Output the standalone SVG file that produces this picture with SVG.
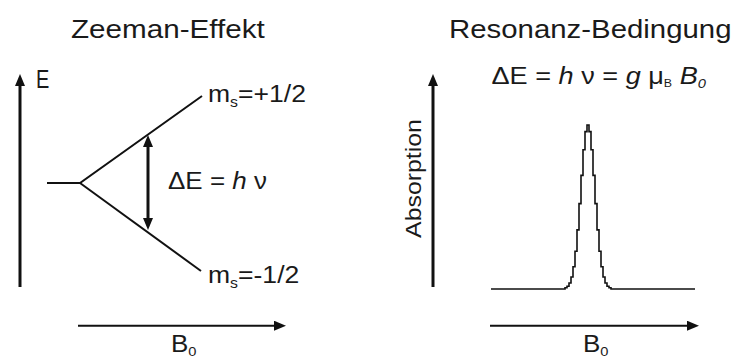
<svg xmlns="http://www.w3.org/2000/svg" width="736" height="361" viewBox="0 0 736 361">
  <defs>
    <marker id="ah" viewBox="0 0 12 10" refX="0" refY="5" markerWidth="12" markerHeight="10" orient="auto-start-reverse" markerUnits="userSpaceOnUse">
      <path d="M0,0 L12,5 L0,10 z" fill="#111"/>
    </marker>
    <style>
      .t { font-family: "Liberation Sans", Arial, Helvetica, sans-serif; fill: #1a1a1a; }
      .title { font-size: 26px; }
      .lbl { font-size: 23px; }
      .ax { stroke: #111; stroke-width: 3; fill: none; }
      .ax2 { stroke: #111; stroke-width: 2; fill: none; }
      .ln { stroke: #111; stroke-width: 2; fill: none; }
      .curve { stroke: #111; stroke-width: 1.6; fill: none; }
      .i { font-style: italic; }
    </style>
  </defs>
  <rect width="736" height="361" fill="#ffffff"/>

  <g id="title-zeeman">
    <text class="t title" transform="translate(71,38) scale(1.14,1)">Zeeman-Effekt</text>
  </g>
  <g id="title-resonanz">
    <text class="t title" transform="translate(449,37.5) scale(1.13,1)">Resonanz-Bedingung</text>
  </g>

  <g id="connectors">
    <line id="axis-E" class="ax" x1="20" y1="287" x2="20" y2="86" marker-end="url(#ah)"/>
    <line id="axis-B0-left" class="ax2" x1="78" y1="325.7" x2="274" y2="325.7" marker-end="url(#ah)"/>
    <line id="axis-absorption" class="ax" x1="433" y1="287" x2="433" y2="86" marker-end="url(#ah)"/>
    <line id="axis-B0-right" class="ax2" x1="490" y1="325.7" x2="687" y2="325.7" marker-end="url(#ah)"/>
    <line id="delta-arrow" class="ax" x1="148" y1="147" x2="148" y2="218" marker-start="url(#ah)" marker-end="url(#ah)"/>
  </g>

  <g id="level-split">
    <polyline class="ln" points="47,183 80,183 202,96"/>
    <line class="ln" x1="80" y1="183" x2="201" y2="271"/>
  </g>

  <g id="label-E">
    <text class="t" font-size="25" fill="#333" transform="translate(36,88) scale(0.8,1)">E</text>
  </g>
  <g id="label-ms-plus">
    <text class="t" font-size="23.5" transform="translate(208,101.5) scale(1.13,1)">m<tspan font-size="14" dy="5">s</tspan><tspan dy="-5">=+1/2</tspan></text>
  </g>
  <g id="label-ms-minus">
    <text class="t" font-size="23.5" transform="translate(208,283) scale(1.13,1)">m<tspan font-size="14" dy="5">s</tspan><tspan dy="-5">=-1/2</tspan></text>
  </g>
  <g id="label-deltaE">
    <text class="t lbl" transform="translate(168,188.5) scale(1.13,1)">ΔE = <tspan class="i">h</tspan> ν</text>
  </g>
  <g id="label-B0-left">
    <text class="t lbl" transform="translate(171,352) scale(1.13,1)">B<tspan font-size="13" dy="4">0</tspan></text>
  </g>

  <g id="label-formula">
    <text class="t" font-size="24" transform="translate(491.5,83.5) scale(1.13,1)">ΔE = <tspan class="i">h</tspan> ν = <tspan class="i">g</tspan> μ<tspan font-size="11" dy="3">B</tspan><tspan dy="-3"> </tspan><tspan class="i">B</tspan><tspan class="i" font-size="13" dy="4">0</tspan></text>
  </g>
  <g id="label-absorption">
    <text class="t" font-size="22" text-anchor="middle" transform="translate(421,178.5) rotate(-90) scale(1.13,1)">Absorption</text>
  </g>
  <g id="spectrum">
    <path class="curve" d="M491,289 H565 V287.8 H567 V286.2 H569 V283 H571 V277 H573 V266.8 H575 V251.3 H577 V229.9 H579 V203.6 H581 V175.4 H583 V149.7 H585 V131.6 H587 V125 H589 V131.6 H591 V149.7 H593 V175.4 H595 V203.6 H597 V229.9 H599 V251.3 H601 V266.8 H603 V277 H605 V283 H607 V286.2 H609 V287.8 H611 V289 H695"/>
  </g>
  <g id="label-B0-right">
    <text class="t lbl" transform="translate(583,352) scale(1.13,1)">B<tspan font-size="13" dy="4">0</tspan></text>
  </g>
</svg>
